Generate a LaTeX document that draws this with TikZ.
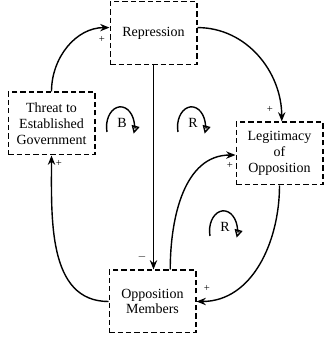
\documentclass[tikz,border=0pt]{standalone}
\usepackage{fontspec}
\setmainfont{Liberation Serif}
\usetikzlibrary{arrows.meta}
\tikzset{
  var/.style={draw, dash pattern=on 4pt off 2.3pt, line width=1pt,
    minimum width=65pt, minimum height=47pt, align=center,
    font=\fontsize{10.5}{11.8}\selectfont},
  link/.style={line width=1.05pt, -{Stealth[length=7pt,width=5.5pt]}},
  sign/.style={font=\footnotesize, inner sep=0pt},
  loopArrow/.style={line width=1.05pt, -{Triangle[open,length=6pt,width=6pt]}},
  loopLetter/.style={font=\fontsize{10.5}{12}\selectfont, inner sep=0pt}
}
\begin{document}
\begin{tikzpicture}[x=0.75pt,y=0.75pt]
        % frame
        \useasboundingbox (0,0) rectangle (324,339);
        % variables
        \node[var] (rep) at (153.5,306) {Repression};
        \node[var] (threat) at (51.5,215.5) {Threat to\\Established\\Government};
        \node[var] (leg) at (279.5,185.5) {Legitimacy\\of\\Opposition};
        \node[var] (mem) at (152.5,37.5) {Opposition\\Members};
        % links
        \draw[link] (threat.north) to[out=90,in=180] (rep.173);
        \draw[link] (rep.7) to[out=0,in=90] (leg.86);
        \draw[link] (rep.south) -- (rep.south |- mem.north);
        \draw[link] (mem.61) to[out=90,in=180] (leg.182);
        \draw[link] (leg.south) to[out=-90,in=0] (mem.east);
        \draw[link] (mem.west) to[out=180,in=-90] (threat.south);
        % polarities
        \node[sign] (s1) at (102,300) {+};
        \node[sign] (s2) at (270,230) {+};
        \node[sign] (s3) at (142,82) {$-$};
        \node[sign] (s4) at (230,174) {+};
        \node[sign] (s5) at (207,51) {+};
        \node[sign] (s6) at (59,176) {+};
        % loop markers
        \node[loopLetter] (loopB) at (122,216) {B};
        \draw[loopArrow] ([shift={(-15,-9)}]loopB.center) arc[start angle=195, end angle=-20, x radius=14, y radius=20];
        \node[loopLetter] (loopR1) at (193,216) {R};
        \draw[loopArrow] ([shift={(-15,-9)}]loopR1.center) arc[start angle=195, end angle=-20, x radius=14, y radius=20];
        \node[loopLetter] (loopR2) at (225,112) {R};
        \draw[loopArrow] ([shift={(-15,-9)}]loopR2.center) arc[start angle=195, end angle=-20, x radius=14, y radius=20];
\end{tikzpicture}
\end{document}
